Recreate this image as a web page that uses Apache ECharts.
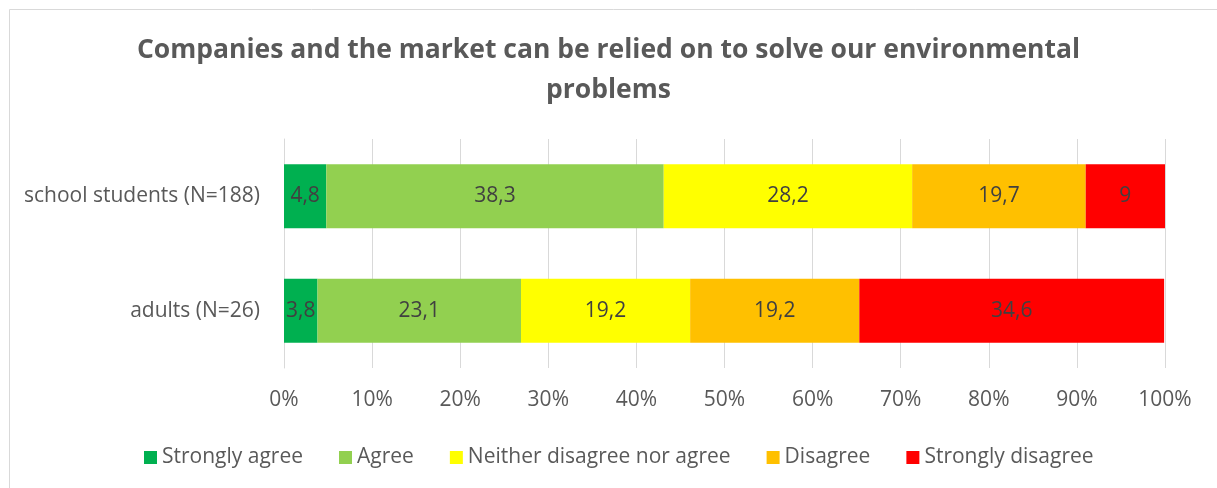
<!DOCTYPE html>
<html>
<head>
<meta charset="utf-8">
<script src="https://cdn.jsdelivr.net/npm/echarts@6/dist/echarts.min.js"></script>
<style>
html,body{margin:0;padding:0;background:#fff;}
#chart{width:1217px;height:488px;}
</style>
</head>
<body>
<div id="chart"></div>
<script>
const categories = ['adults (N=26)', 'school students (N=188)'];
const seriesNames = ['Strongly agree', 'Agree', 'Neither disagree nor agree', 'Disagree', 'Strongly disagree'];
const stronglyAgree = [3.8, 4.8];
const agree = [23.1, 38.3];
const neither = [19.2, 28.2];
const disagree = [19.2, 19.7];
const stronglyDisagree = [34.6, 9];
const xTicks = [0, 10, 20, 30, 40, 50, 60, 70, 80, 90, 100];
const colors = ['#00B050', '#92D050', '#FFFF00', '#FFC000', '#FF0000'];

const values = [stronglyAgree, agree, neither, disagree, stronglyDisagree];
const font = 'Open Sans';

const chart = echarts.init(document.getElementById('chart'), null, {renderer: 'canvas'});
chart.setOption({
  animation: false,
  backgroundColor: '#fff',
  graphic: [{
    type: 'rect', left: 7, top: 7, silent: true,
    shape: {width: 1400, height: 700},
    style: {fill: 'none', stroke: '#D9D9D9', lineWidth: 1}
  }],
  title: {
    text: 'Companies and the market can be relied on to solve our environmental\nproblems',
    left: 'center', top: 25,
    textStyle: {fontFamily: font, fontWeight: 'bold', fontSize: 26.5, color: '#595959', lineHeight: 40}
  },
  legend: {
    top: 442, left: 139,
    itemWidth: 13, itemHeight: 13, itemGap: 36,
    icon: 'rect',
    textStyle: {fontFamily: font, fontSize: 21, color: '#595959'},
    data: seriesNames
  },
  grid: {left: 284, right: 52, top: 139, bottom: 120, containLabel: false},
  xAxis: {
    type: 'value', min: 0, max: 100, interval: 10,
    axisLabel: {formatter: v => xTicks.includes(v) ? v + '%' : '', fontFamily: font, fontSize: 21, color: '#595959', margin: 22},
    splitLine: {show: true, lineStyle: {color: '#D9D9D9', width: 1}},
    axisLine: {show: false}, axisTick: {show: false}
  },
  yAxis: {
    type: 'category', data: categories,
    axisLabel: {fontFamily: font, fontSize: 21, color: '#595959', margin: 24},
    axisLine: {show: true, lineStyle: {color: '#D9D9D9'}},
    axisTick: {show: false}
  },
  series: seriesNames.map((name, i) => ({
    name, type: 'bar', stack: 'total', barWidth: '56%',
    itemStyle: {color: colors[i]},
    label: {
      show: true, position: 'inside', fontFamily: font, fontSize: 21, color: '#404040',
      formatter: p => String(p.value).replace('.', ',')
    },
    data: values[i]
  }))
});
</script>
</body>
</html>
